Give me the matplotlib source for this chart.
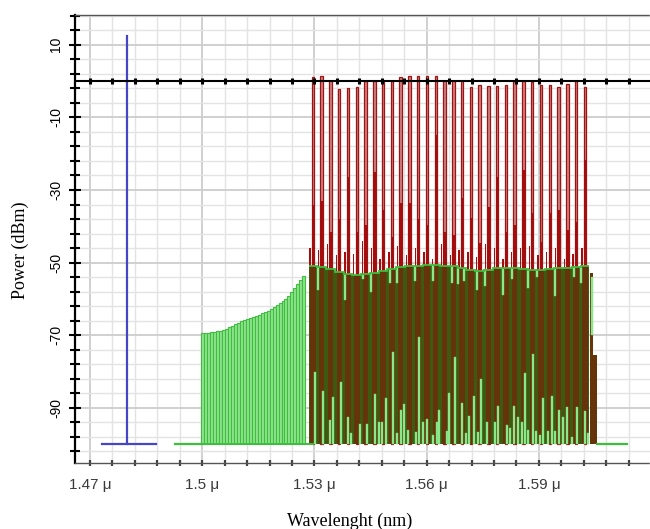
import numpy as np
import matplotlib
matplotlib.use("Agg")
import matplotlib.pyplot as plt
from matplotlib.ticker import MultipleLocator, FuncFormatter

plt.rcParams["axes.unicode_minus"] = False

FLOOR = -100.0

# pump line (nm, dBm)
pump_wl = 1480.0
pump_power = 12.3
pump_base = [1473.3, 1487.7]

# ASE ramp below the channel band, 0.8 nm bins starting at 1500 nm
ramp_start = 1500.0
ramp_bin = 0.8
ramp_top = [-69.5, -69.4, -69.3, -69.2, -69.0, -68.9, -68.8, -68.6, -68.2, -67.8,
            -67.4, -67.0, -66.6, -66.2, -65.9, -65.6, -65.3, -65.0, -64.7, -64.3,
            -64.0, -63.6, -63.2, -62.8, -62.3, -61.8, -61.2, -60.6, -59.9, -59.1,
            -58.0, -57.0, -55.8, -54.7, -53.6]

# WDM channels
ch_first = 1529.6
ch_step = 2.345
ch_peak = [1.2, 1.3, 0, -2.2, -2, -1.7, 0, 0, -0.2, 0,
           1.2, 1.5, 1.3, 1.5, 1.3, 0, 0, 0, -1.7, -1,
           -1.3, -1.3, -1, 0, 0, -0.2, -1, -1, -1.5, -0.8,
           0, -1.5]
ch_side = [-34, -33, -41.5, -38, -26.4, -41.5, -39.6, -25, -35.5, -43,
           -33.6, -33.6, -38, -39.6, -14.9, -41.5, -42.5, -32.2, -37.8, -44.7,
           -34.6, -26.4, -41.5, -39.6, -24.4, -36.4, -44.2, -36.4, -35.5, -41,
           -38.7, -21.8]
ch_skirt = [-46, -46.5, -45, -48, -47, -47.5, -44, -46, -49, -47,
            -45.5, -48, -46, -47, -49, -45, -48, -46.5, -47, -48.5,
            -45, -46, -49, -47, -46, -45.5, -48, -47, -46, -49,
            -47.5, -46]
ch_floor = [-51.0, -51.2, -51.8, -52.5, -53.2, -53.5, -53.2, -52.8, -52.3, -51.8,
            -51.3, -51.0, -50.8, -50.7, -50.7, -50.8, -51.0, -51.5, -52.0, -52.3,
            -52.0, -51.6, -51.4, -51.5, -51.8, -52.0, -52.0, -51.8, -51.6, -51.4,
            -51.2, -51.0]

# noise bins rising from the floor inside the band
low_wl = [1530.1, 1532.3, 1534.2, 1535.0, 1537.1, 1539.0, 1539.8, 1542.2, 1544.0, 1546.2,
          1547.2, 1548.1, 1549.1, 1551.0, 1552.1, 1553.1, 1553.9, 1555.0, 1557.1, 1557.9,
          1559.0, 1560.1, 1561.7, 1562.8, 1563.3, 1565.4, 1566.0, 1567.6, 1569.4, 1570.5,
          1571.3, 1572.6, 1573.7, 1574.5, 1576.1, 1578.3, 1579.1, 1581.5, 1582.3, 1583.3,
          1584.4, 1585.5, 1586.3, 1587.1, 1588.4, 1589.2, 1590.3, 1591.1, 1592.4, 1593.5,
          1594.3, 1595.4, 1596.4, 1597.5, 1598.8, 1600.2, 1602.3, 1603.1]
low_top = [-80, -85.5, -93.4, -87, -83, -92.5, -97, -94.5, -94.5, -86.2,
           -93.8, -93.8, -87.3, -74.6, -97, -90.6, -88.9, -96, -96.6, -70.5,
           -94, -93, -97.5, -94, -90.5, -96.4, -86, -76, -88.7, -97,
           -92.2, -86.8, -96.6, -82, -93.8, -93.8, -89.5, -94.6, -95.5, -89.5,
           -92.5, -94, -80.4, -96, -75.2, -96.4, -97.4, -87.3, -96.4, -86.8,
           -96.4, -90.6, -92.6, -89.8, -98, -89.7, -91, -96.8]

# noise bins hanging below the band envelope
hang_wl = [1530.9, 1538.2, 1543.0, 1545.1, 1550.2, 1552.1, 1556.9, 1561.7, 1566.8, 1568.4,
           1570.0, 1573.4, 1575.6, 1580.4, 1582.8, 1587.1, 1589.5, 1594.3, 1599.4, 1601.2,
           1604.2]
hang_top = [-51.2, -53.3, -53.3, -52.9, -51.6, -51.2, -50.8, -50.7, -51.0, -51.3,
            -51.8, -52.1, -51.8, -51.5, -51.6, -52.0, -52.0, -51.6, -51.2, -51.0,
            -54.0]
hang_bot = [-57.5, -60.3, -54.5, -58, -55.7, -55.7, -55, -55, -55.7, -56,
            -55, -57.5, -56.5, -59, -54.5, -57, -54, -59.3, -54, -55.7,
            -70]

# roll-off at the long-wavelength edge
tail_wl = [1604.0, 1605.0]
tail_top = [-53.0, -75.5]

green_left = [1492.8, 1500.0]
green_right = [1605.5, 1613.6]

RED_EDGE = "#9e1414"
RED_FILL = "#d08484"
RED_DARK = "#a50c0c"
BROWN = "#66340a"
DKGREEN = "#3e5a10"
LTGREEN = "#93ec93"
GREEN = "#3fbd3f"
BLUE = "#4646c4"

um = lambda v: np.asarray(v, dtype=float) / 1000.0

fig = plt.figure(figsize=(6.5, 5.29), dpi=100)
ax = fig.add_axes([75 / 650, 66 / 529, 575 / 650, 448 / 529])

ch_wl = ch_first + ch_step * np.arange(len(ch_peak))
ramp_wl = ramp_start + ramp_bin * np.arange(len(ramp_top))

# pump
ax.plot(um([pump_wl, pump_wl]), [FLOOR, pump_power], color=BLUE, lw=1.6, zorder=6)
ax.plot(um(pump_base), [FLOOR, FLOOR], color=BLUE, lw=1.6, zorder=6)

# channels
ax.bar(um(ch_wl), np.array(ch_peak) - FLOOR, bottom=FLOOR, width=0.00065,
       facecolor=RED_FILL, edgecolor=RED_EDGE, lw=0.9, zorder=2)
ax.bar(um(ch_wl), np.array(ch_side) - FLOOR, bottom=FLOOR, width=0.00065,
       color=RED_DARK, lw=0, zorder=2.2)
ax.bar(um(ch_wl - 0.8), np.array(ch_skirt) - FLOOR, bottom=FLOOR, width=0.00035,
       color=RED_DARK, lw=0, zorder=2.2)

# ASE ramp
ax.bar(um(ramp_wl), np.array(ramp_top) - FLOOR, bottom=FLOOR, width=0.0008,
       facecolor="#8fe48f", edgecolor=GREEN, lw=0.8, zorder=3)

# band noise floor
ax.bar(um(ch_wl), np.array(ch_floor) - FLOOR, bottom=FLOOR, width=ch_step / 1000,
       color=DKGREEN, lw=0, zorder=3)
ax.bar(um(ch_wl), np.array(ch_floor) - FLOOR, bottom=FLOOR, width=0.62 * ch_step / 1000,
       color=BROWN, lw=0, zorder=3.1)
ax.bar(um(tail_wl), np.array(tail_top) - FLOOR, bottom=FLOOR, width=0.0009,
       color=BROWN, lw=0, zorder=3.1)
edges = np.append(ch_wl - ch_step / 2, ch_wl[-1] + ch_step / 2)
ax.stairs(ch_floor, um(edges), baseline=None, color=GREEN, lw=1.3, zorder=4.5)

ax.bar(um(low_wl), np.array(low_top) - FLOOR, bottom=FLOOR, width=0.0006,
       facecolor=LTGREEN, edgecolor="#6ad86a", lw=0.3, zorder=4)
ax.bar(um(hang_wl), np.array(hang_top) - np.array(hang_bot), bottom=hang_bot,
       width=0.0006, facecolor=LTGREEN, edgecolor="#6ad86a", lw=0.3, zorder=4)

ax.plot(um(green_left), [FLOOR, FLOOR], color=GREEN, lw=1.6, zorder=4)
ax.plot(um(green_right), [FLOOR, FLOOR], color=GREEN, lw=1.6, zorder=4)
ax.plot(um([ramp_wl[0] - 0.4, ch_wl[0]]), [FLOOR, FLOOR], color=GREEN, lw=1.4, zorder=4)

# axes
ax.set_xlim(1.4660, 1.6197)
ax.set_ylim(-105.2, 18.2)
ax.xaxis.set_major_locator(MultipleLocator(0.03))
ax.xaxis.set_minor_locator(MultipleLocator(0.006))
ax.yaxis.set_major_locator(MultipleLocator(20, offset=10))
ax.yaxis.set_minor_locator(MultipleLocator(4, offset=2))
ax.xaxis.set_major_formatter(FuncFormatter(lambda v, p: f"{round(v, 3):g} \u03bc"))

ax.set_axisbelow(True)
ax.grid(which="minor", color="#e3e3e3", lw=1.0)
ax.grid(which="major", color="#cdcdcd", lw=1.3)

# 0 dBm reference line with its tick dots
ax.axhline(0, color="black", lw=1.5, zorder=7)
xt = [v for v in np.concatenate([ax.xaxis.get_majorticklocs(), ax.xaxis.get_minorticklocs()])
      if 1.4660 < v < 1.6197]
ax.plot(xt, np.zeros(len(xt)), "|", ms=5, mew=2.2, color="black", zorder=7)

ax.spines["right"].set_visible(False)
ax.spines["left"].set_linewidth(1.6)
for side in ("top", "bottom"):
    ax.spines[side].set_linestyle((0, (2, 1)))
    ax.spines[side].set_color("#555555")
    ax.spines[side].set_linewidth(1.0)

ax.tick_params(axis="y", which="major", direction="inout", length=9, width=1.5, pad=4,
               labelsize=10, labelrotation=90)
ax.tick_params(axis="y", which="minor", direction="inout", length=7, width=1.5)
ax.tick_params(axis="x", which="both", direction="inout", length=5, width=1.6,
               color="#444444", pad=8, labelsize=11, labelcolor="#3a3a3a")
for lab in ax.get_yticklabels():
    lab.set_verticalalignment("center")
for lab in ax.get_xticklabels() + ax.get_yticklabels():
    lab.set_family("Liberation Sans")

fig.text(20 / 650, 1 - 250 / 529, "Power (dBm)", rotation=90, ha="center", va="center",
         family="Liberation Serif", size=13)
fig.text(350 / 650, 1 - 521 / 529, "Wavelenght (nm)", ha="center", va="center",
         family="Liberation Serif", size=13)

fig.savefig("out.png", dpi=100)
